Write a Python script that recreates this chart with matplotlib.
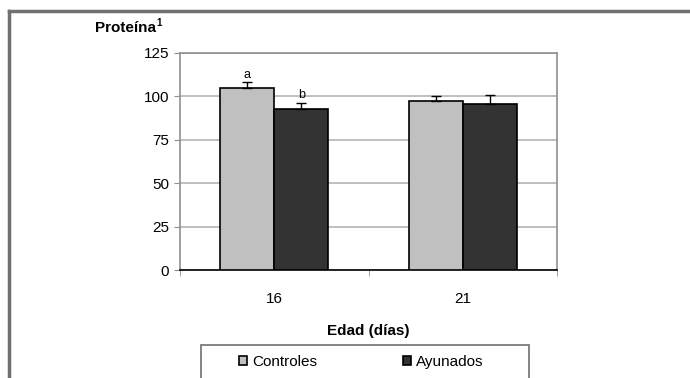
import matplotlib.pyplot as plt
import numpy as np
from matplotlib.patches import Rectangle
from matplotlib.lines import Line2D

plt.rcParams['font.family'] = ['Liberation Sans', 'DejaVu Sans']

# data
edades = ['16', '21']
controles = [104.7, 97.5]
controles_err = [3.4, 2.9]
ayunados = [92.7, 95.8]
ayunados_err = [3.7, 5.0]
letras_c = ['a', '']
letras_a = ['b', '']

fig = plt.figure(figsize=(6.9, 3.78), dpi=100)
ax = fig.add_axes([0.2609, 0.2857, 0.5464, 0.5741])

x = np.arange(len(edades))
w = 0.286
c1 = '#c0c0c0'
c2 = '#333333'

b1 = ax.bar(x - w/2, controles, w, color=c1, edgecolor='black', linewidth=1.2, zorder=3, label='Controles')
b2 = ax.bar(x + w/2, ayunados, w, color=c2, edgecolor='black', linewidth=1.2, zorder=3, label='Ayunados')
ax.errorbar(x - w/2, controles, yerr=[np.zeros(2), controles_err], fmt='none', ecolor='black',
            elinewidth=1, capsize=3.5, capthick=1, zorder=4)
ax.errorbar(x + w/2, ayunados, yerr=[np.zeros(2), ayunados_err], fmt='none', ecolor='black',
            elinewidth=1, capsize=3.5, capthick=1, zorder=4)

for i in range(len(x)):
    if letras_c[i]:
        ax.text(x[i] - w/2, controles[i] + controles_err[i] + 1, letras_c[i], ha='center', va='bottom', fontsize=9)
    if letras_a[i]:
        ax.text(x[i] + w/2, ayunados[i] + ayunados_err[i] + 1, letras_a[i], ha='center', va='bottom', fontsize=9)

ax.set_xlim(-0.5, 1.5)
ax.set_ylim(0, 125)
ax.set_yticks([0, 25, 50, 75, 100, 125])
ax.set_xticks(x)
ax.set_xticklabels(edades)
ax.set_xticks([-0.5, 0.5, 1.5], minor=True)
ax.tick_params(axis='x', which='major', length=0, pad=16, labelsize=11)
ax.tick_params(axis='x', which='minor', length=4, color='#909090', direction='out')
ax.tick_params(axis='y', length=4, color='#909090', labelsize=11, pad=4)
ax.yaxis.grid(True, color='#b4b4b4', linewidth=1.2, zorder=0)
ax.set_axisbelow(True)
for s in ['left', 'top', 'right']:
    ax.spines[s].set_color('#909090')
    ax.spines[s].set_linewidth(1.2)
ax.spines['bottom'].set_color('black')
ax.spines['bottom'].set_linewidth(1.2)

fig.text(95/690, 1 - 28/378, 'Proteína', fontsize=11, fontweight='bold', va='center', ha='left')
fig.text(156.5/690, 1 - 23/378, '1', fontsize=7, fontweight='bold', va='center', ha='left')
fig.text(368/690, 1 - 331/378, 'Edad (días)', fontsize=11, fontweight='bold', ha='center', va='center')

# outer frame (left and top only visible)
fig.add_artist(Line2D([9/690, 9/690], [0, 1 - 11/378], color='#707070', linewidth=2.5, transform=fig.transFigure))
fig.add_artist(Line2D([9/690, 1], [1 - 11/378, 1 - 11/378], color='#707070', linewidth=2.5, transform=fig.transFigure))

# legend box
fig.add_artist(Rectangle((201/690, -0.05), (529 - 201)/690, 0.05 + 1 - 345/378, transform=fig.transFigure,
                         facecolor='white', edgecolor='#707070', linewidth=1.2))
leg = fig.legend(handles=[b1, b2], loc='center', bbox_to_anchor=(361/690, 1 - 362/378), ncol=2, frameon=False,
                 fontsize=11, handlelength=0.55, handleheight=0.55, handletextpad=0.3, columnspacing=5.6)

fig.savefig('out.png', dpi=100)
